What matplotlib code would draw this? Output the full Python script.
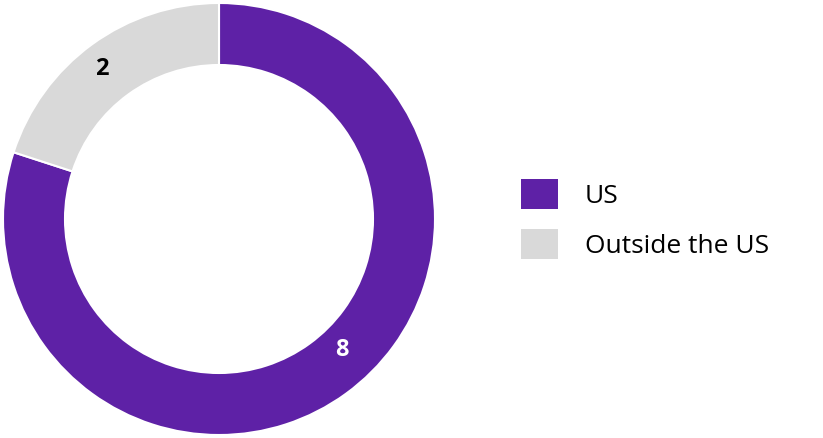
import matplotlib
matplotlib.use("Agg")
import matplotlib.pyplot as plt
from matplotlib.patches import Patch
import numpy as np

categories = ["US", "Outside the US"]
values = [8, 2]
colors = ["#5E21A6", "#D9D9D9"]
label_colors = ["white", "black"]

plt.rcParams['font.family'] = ['Open Sans', 'DejaVu Sans']
fig = plt.figure(figsize=(8.23, 4.38), dpi=100)
ax = fig.add_axes([0, 0, 438/823, 1])
R = 216/219
wedges, _ = ax.pie(values, colors=colors, startangle=90, counterclock=False, radius=R,
                   wedgeprops=dict(width=62/219, edgecolor="white", linewidth=1.5))
ax.set_xlim(-1, 1); ax.set_ylim(-1, 1); ax.set_aspect('equal')
# label positions (angle deg, radius)
pos = [(-47, 0.82), (128, 0.87)]
for v, (a, r), c in zip(values, pos, label_colors):
    t = np.deg2rad(a)
    ax.text(r*np.cos(t), r*np.sin(t), str(v), ha='center', va='center',
            fontsize=17, fontweight='bold', color=c)
handles = [Patch(facecolor=c, edgecolor='none') for c in colors]
fig.legend(handles, categories, loc='center left', bbox_to_anchor=(580/823/1.0 - 0.1, 0.5),
           frameon=False, fontsize=19, handlelength=1.4, handleheight=1.4,
           handletextpad=1.0, labelspacing=0.75)
fig.savefig("out.png", dpi=100)
